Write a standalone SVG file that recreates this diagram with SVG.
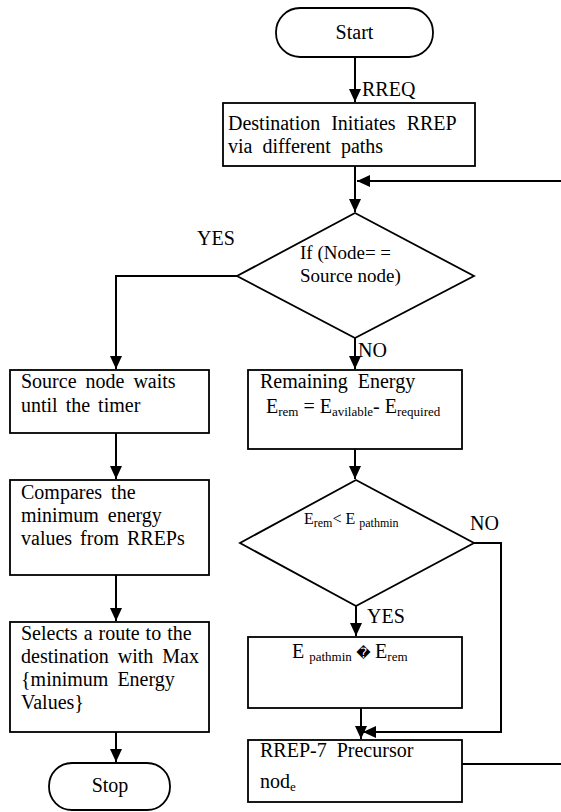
<svg xmlns="http://www.w3.org/2000/svg" width="561" height="812" viewBox="0 0 561 812" font-family="'Liberation Serif', 'Times New Roman', 'DejaVu Serif', serif">
<style>
.n{fill:#fff;stroke:#000;stroke-width:1.8}
.c{fill:none;stroke:#000;stroke-width:2}
.t{font-family:'Liberation Serif','Times New Roman','DejaVu Serif',serif;font-size:20px;fill:#000}
.sm{font-size:19px}
.sub{font-size:13px}
.d2{font-size:16px}
.d2s{font-size:12px}
</style>
<defs>
<marker id="ah" markerUnits="userSpaceOnUse" markerWidth="14" markerHeight="12" refX="13" refY="6" orient="auto">
<path d="M0,0 L13,6 L0,12 z" fill="#000"/>
</marker>
</defs>
<rect width="561" height="812" fill="#fff"/>
<g id="connectors">
<path class="c" d="M355,57 V102" marker-end="url(#ah)"/>
<path class="c" d="M355,166 V212" marker-end="url(#ah)"/>
<path class="c" d="M561,181 H357" marker-end="url(#ah)"/>
<path class="c" d="M237,276 H116 V369" marker-end="url(#ah)"/>
<path class="c" d="M355,338 V369" marker-end="url(#ah)"/>
<path class="c" d="M116,433 V479" marker-end="url(#ah)"/>
<path class="c" d="M116,575 V621" marker-end="url(#ah)"/>
<path class="c" d="M116,732 V762" marker-end="url(#ah)"/>
<path class="c" d="M355,449 V479" marker-end="url(#ah)"/>
<path class="c" d="M356,606 V636" marker-end="url(#ah)"/>
<path class="c" d="M474,543 H501 V732 H363" marker-end="url(#ah)"/>
<path class="c" d="M361,708 V739" marker-end="url(#ah)"/>
<path class="c" d="M462,764 H561"/>
<text class="t" x="362" y="96">RREQ</text>
<text class="t" x="197" y="245">YES</text>
<text class="t" x="358" y="357">NO</text>
<text class="t" x="470" y="530">NO</text>
<text class="t" x="367" y="623">YES</text>
</g>
<g id="start">
<rect class="n" x="276" y="8" width="157" height="49" rx="24"/>
<text class="t" x="354.5" y="39" text-anchor="middle">Start</text>
</g>
<g id="destination">
<rect class="n" x="223" y="103" width="252" height="63"/>
<text class="t" x="228" y="130" word-spacing="6">Destination Initiates RREP</text>
<text class="t" x="228" y="153" word-spacing="5">via different paths</text>
</g>
<g id="decision-source">
<polygon class="n" points="355,213 474,276 355,338 237,276"/>
<text class="t sm" x="300" y="259">If (Node= =</text>
<text class="t sm" x="300" y="282">Source node)</text>
</g>
<g id="source-waits">
<rect class="n" x="10" y="370" width="199" height="63"/>
<text class="t" x="21" y="388" word-spacing="4">Source node waits</text>
<text class="t" x="21" y="412" word-spacing="3">until the timer</text>
</g>
<g id="compares">
<rect class="n" x="10" y="480" width="199" height="95"/>
<text class="t" x="21" y="499" word-spacing="4">Compares the</text>
<text class="t" x="21" y="522" word-spacing="4">minimum energy</text>
<text class="t" x="21" y="545" word-spacing="3">values from RREPs</text>
</g>
<g id="selects">
<rect class="n" x="10" y="622" width="199" height="110"/>
<text class="t" x="21" y="640" word-spacing="1">Selects a route to the</text>
<text class="t" x="21" y="663" word-spacing="4">destination with Max</text>
<text class="t" x="21" y="686" word-spacing="4">{minimum Energy</text>
<text class="t" x="21" y="709">Values}</text>
</g>
<g id="stop">
<rect class="n" x="49" y="763" width="121" height="47" rx="23"/>
<text class="t" x="110" y="792" text-anchor="middle">Stop</text>
</g>
<g id="remaining-energy">
<rect class="n" x="248" y="370" width="214" height="79"/>
<text class="t" x="260" y="388" word-spacing="5">Remaining Energy</text>
<text class="t" x="266" y="413">E<tspan class="sub" dy="3">rem</tspan><tspan dy="-3"> = E</tspan><tspan class="sub" dy="3">avilable</tspan><tspan dy="-3">- E</tspan><tspan class="sub" dy="3">required</tspan></text>
</g>
<g id="decision-energy">
<polygon class="n" points="356,480 474,543 356,606 240,543"/>
<text class="t d2" x="304" y="524">E<tspan class="d2s" dy="3">rem</tspan><tspan dy="-3">&lt; E </tspan><tspan class="d2s" dy="3">pathmin</tspan></text>
</g>
<g id="update-pathmin">
<rect class="n" x="248" y="637" width="214" height="71"/>
<text class="t" x="292" y="658">E <tspan class="sub" dy="3">pathmin</tspan><tspan dy="-3" font-family="'DejaVu Sans', sans-serif" font-size="14"> &#xFFFD; </tspan><tspan>E</tspan><tspan class="sub" dy="3">rem</tspan></text>
</g>
<g id="rrep-precursor">
<rect class="n" x="248" y="740" width="214" height="62"/>
<text class="t" x="260" y="757" word-spacing="5">RREP-7 Precursor</text>
<text class="t" x="260" y="788">nod<tspan class="sub" dy="3">e</tspan></text>
</g>
</svg>
